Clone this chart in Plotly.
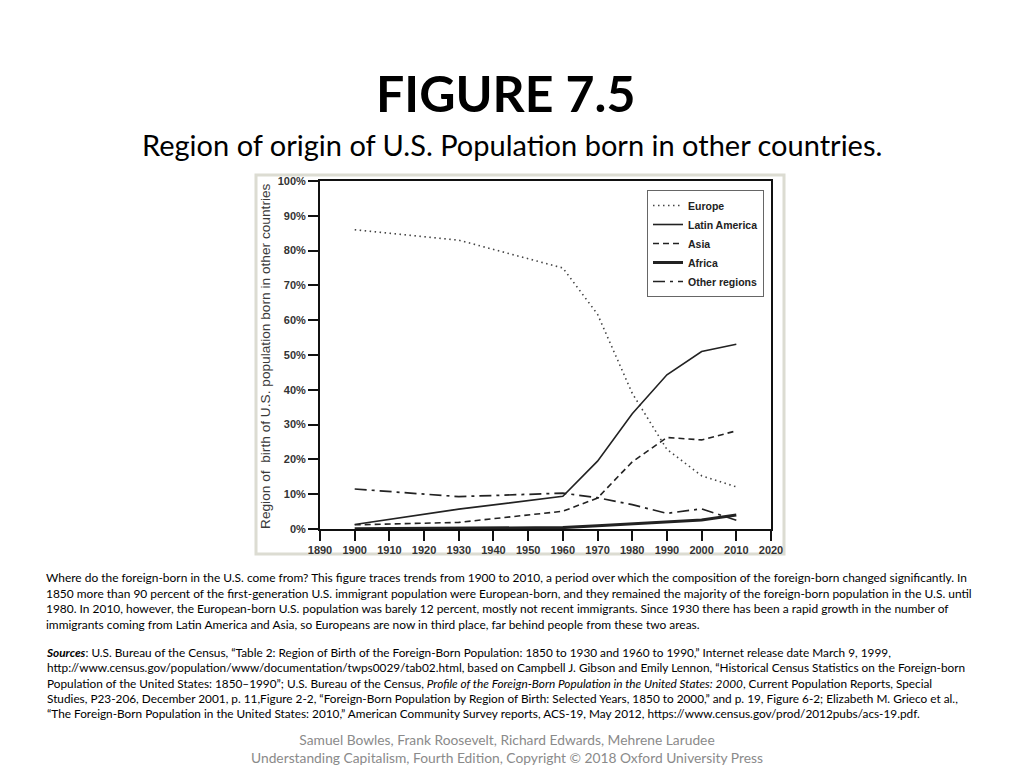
import plotly.graph_objects as go

# Share of the U.S. foreign-born population by region of birth (%)
years = [1900, 1930, 1960, 1970, 1980, 1990, 2000, 2010]
europe = [86.0, 83.0, 75.0, 61.7, 39.0, 22.9, 15.3, 12.1]
latin_america = [1.3, 5.7, 9.4, 19.5, 33.1, 44.3, 51.0, 53.1]
asia = [1.2, 1.9, 5.1, 8.9, 19.3, 26.3, 25.6, 28.2]
africa = [0.1, 0.2, 0.4, 0.9, 1.5, 1.9, 2.6, 4.0]
other_regions = [11.5, 9.3, 10.3, 9.0, 7.0, 4.5, 5.8, 2.5]

x_ticks = list(range(1890, 2021, 10))
y_ticks = list(range(0, 101, 10))
y_tick_labels = [f"{v}%" for v in y_ticks]

# the page body has an 8px margin, so the figure is drawn 8px smaller
OFF = 8
W, H = 1024 - OFF, 768 - OFF
# plot area in page pixels, used to place the slide texts
PX0, PX1, PY0, PY1 = 320, 771, 181, 529


def px(x):
    return (x - PX0) / (PX1 - PX0)


def py(y):
    return (PY1 - y) / (PY1 - PY0)


ink = "#222222"
series = [
    ("Europe", europe, dict(color="#444444", width=1.6, dash="1.5px,3.5px")),
    ("Latin America", latin_america, dict(color=ink, width=1.6)),
    ("Asia", asia, dict(color=ink, width=1.6, dash="6px,4px")),
    ("Africa", africa, dict(color=ink, width=3)),
    ("Other regions", other_regions, dict(color=ink, width=1.7, dash="12px,5px,3px,5px")),
]

fig = go.Figure()
for name, vals, line in series:
    fig.add_trace(go.Scatter(x=years, y=vals, name=name, mode="lines", line=line))

slide_font = "Lato"
chart_font = "Liberation Sans"

body = (
    "Where do the foreign-born in the U.S. come from? This figure traces trends from 1900 to 2010, a period over which the composition of the foreign-born changed significantly. In<br>"
    "1850 more than 90 percent of the first-generation U.S. immigrant population were European-born, and they remained the majority of the foreign-born population in the U.S. until<br>"
    "1980. In 2010, however, the European-born U.S. population was barely 12 percent, mostly not recent immigrants. Since 1930 there has been a rapid growth in the number of<br>"
    "immigrants coming from Latin America and Asia, so Europeans are now in third place, far behind people from these two areas."
)
sources = (
    "<b><i>Sources</i></b>: U.S. Bureau of the Census, \u201cTable 2: Region of Birth of the Foreign-Born Population: 1850 to 1930 and 1960 to 1990,\u201d Internet release date March 9, 1999,<br>"
    "http://www.census.gov/population/www/documentation/twps0029/tab02.html, based on Campbell J. Gibson and Emily Lennon, \u201cHistorical Census Statistics on the Foreign-born<br>"
    "Population of the United States: 1850\u20131990\u201d; U.S. Bureau of the Census, <i>Profile of the Foreign-Born Population in the United States: 2000</i>, Current Population Reports, Special<br>"
    "Studies, P23-206, December 2001, p. 11,Figure 2-2, \u201cForeign-Born Population by Region of Birth: Selected Years, 1850 to 2000,\u201d and p. 19, Figure 6-2; Elizabeth M. Grieco et al.,<br>"
    "\u201cThe Foreign-Born Population in the United States: 2010,\u201d American Community Survey reports, ACS-19, May 2012, https://www.census.gov/prod/2012pubs/acs-19.pdf."
)
footer = (
    "Samuel Bowles, Frank Roosevelt, Richard Edwards, Mehrene Larudee<br>"
    "Understanding Capitalism, Fourth Edition, Copyright \u00a9 2018 Oxford University Press"
)

annotations = [
    dict(text="<b>FIGURE 7.5</b>", x=px(505), y=py(93), font=dict(family=slide_font, size=50, color="#000")),
    dict(text="Region of origin of U.S. Population born in other countries.", x=px(512), y=py(144),
         font=dict(family=slide_font, size=29, color="#000")),
    dict(text="Region of  birth of U.S. population born in other countries", x=px(265), y=py(356), textangle=-90,
         font=dict(family=chart_font, size=13.7, color="#3a3a3a")),
    dict(text=body, x=px(44), y=py(568), xanchor="left", yanchor="top", align="left",
         font=dict(family=slide_font, size=11.95, color="#000")),
    dict(text=sources, x=px(44), y=py(643), xanchor="left", yanchor="top", align="left",
         font=dict(family=slide_font, size=11.8, color="#000")),
    dict(text=footer, x=px(507), y=py(729), yanchor="top", align="center",
         font=dict(family=slide_font, size=13.8, color="#8a8a8a")),
]
for a in annotations:
    a.update(xref="paper", yref="paper", showarrow=False)
    a.setdefault("xanchor", "center")
    a.setdefault("yanchor", "middle")

axis_common = dict(
    showgrid=False, zeroline=False, showline=True, linecolor="#111", linewidth=2,
    mirror=True, ticks="outside", ticklen=10, tickwidth=1.5, tickcolor="#111",
    tickfont=dict(family=chart_font, size=11, color="#333", weight="bold"),
)

fig.update_layout(
    width=W, height=H,
    margin=dict(l=PX0 - OFF, r=W - (PX1 - OFF), t=PY0 - OFF, b=H - (PY1 - OFF)),
    paper_bgcolor="white", plot_bgcolor="white",
    showlegend=True,
    legend=dict(
        x=px(764), y=py(190), xanchor="right", yanchor="top",
        bgcolor="white", bordercolor="#666", borderwidth=1,
        font=dict(family=chart_font, size=10.5, color="#222", weight="bold"),
        itemwidth=30, tracegroupgap=0,
    ),
    xaxis=dict(range=[1890, 2020], tickvals=x_ticks, ticktext=[str(v) for v in x_ticks], **axis_common),
    yaxis=dict(range=[0, 100], tickvals=y_ticks, ticktext=y_tick_labels, **axis_common),
    annotations=annotations,
    shapes=[
        dict(type="rect", xref="paper", yref="paper", layer="below",
             x0=px(256), x1=px(784), y0=py(554), y1=py(175),
             line=dict(color="#dcdcd2", width=3), fillcolor="white"),
    ],
)

fig.write_html("out.html")
